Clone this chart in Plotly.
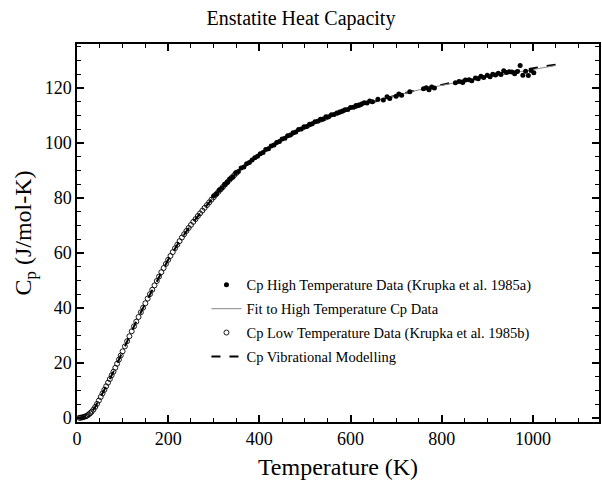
import plotly.graph_objects as go

# Low temperature data (open circles)
low_T = [5, 8, 11, 14, 17, 20, 23, 26, 29, 32, 36, 40, 44, 48, 52, 56, 60, 64, 68, 72, 76, 80,
         84, 88, 92, 96, 100, 105, 110, 115, 120, 125, 130, 135, 140, 145, 150, 155, 160, 165,
         170, 175, 180, 185, 190, 195, 200, 205, 210, 215, 220, 225, 230, 235, 240, 245, 250,
         255, 260, 265, 270, 275, 280, 285, 290, 295, 300, 305, 310, 315, 320, 325, 330, 335,
         340, 345, 350]
low_Cp = [0.02, 0.06, 0.15, 0.3, 0.45, 0.6, 0.9, 1.3, 1.7, 2.2, 3.0, 4.0, 5.1, 6.3, 7.6, 8.9,
          10.2, 11.5, 12.8, 14.1, 15.5, 16.8, 18.2, 19.7, 21.2, 22.7, 24.2, 26.0, 27.9, 29.7,
          31.5, 33.3, 35.0, 36.7, 38.4, 40.1, 41.7, 43.4, 45.0, 46.6, 48.2, 49.8, 51.4, 53.0,
          54.5, 56.0, 57.5, 58.9, 60.3, 61.7, 63.0, 64.3, 65.6, 66.8, 68.0, 69.1, 70.2, 71.3,
          72.3, 73.4, 74.4, 75.4, 76.4, 77.4, 78.4, 79.4, 80.3, 81.3, 82.2, 83.1, 84.0, 84.9,
          85.8, 86.7, 87.5, 88.3, 89.1]

# High temperature data (filled dots)
high_T = [300, 306, 312, 318, 324, 330, 336, 342, 348, 354, 360, 366, 372, 378, 384, 390, 396,
          402, 408, 414, 420, 426, 432, 438, 444, 450, 456, 462, 468, 474, 480, 486, 492, 498,
          504, 510, 516, 522, 528, 534, 540, 546, 552, 558, 564, 570, 576, 582, 588, 594, 600,
          606, 612, 618, 624, 630, 636, 642, 648, 660, 672, 680, 686, 700, 706, 712, 730, 760,
          766, 772, 778, 784, 830, 838, 846, 852, 860, 866, 874, 880, 886, 892, 900, 906, 912,
          918, 924, 930, 936, 942, 948, 954, 960, 966, 972, 978, 984, 990, 996, 1002]
high_Cp = [80.8, 81.5, 82.9, 83.6, 85.0, 85.7, 87.0, 87.6, 89.2, 89.6, 90.9, 91.3, 92.4, 92.9,
           93.8, 94.6, 95.2, 96.1, 96.5, 97.6, 97.9, 98.9, 99.3, 100.2, 100.5, 101.4, 101.7,
           102.6, 102.9, 103.7, 104.0, 104.9, 105.1, 105.9, 106.0, 106.8, 107.0, 107.7, 107.9,
           108.6, 108.7, 109.5, 109.5, 110.3, 110.4, 110.9, 111.3, 111.6, 112.1, 112.2, 112.9,
           113.0, 113.6, 113.8, 114.2, 114.6, 114.5, 115.3, 115.0, 115.9, 115.6, 116.8, 116.2,
           117.0, 117.8, 117.4, 118.6, 119.7, 120.1, 119.4, 120.4, 120.0, 121.9, 122.4, 122.0,
           122.9, 123.0, 122.6, 123.6, 123.4, 124.3, 123.8, 124.6, 124.1, 125.0, 124.7, 125.4,
           124.9, 126.3, 125.6, 125.9, 125.8, 125.2, 126.0, 128.2, 124.6, 126.1, 124.5, 126.4,
           125.5]

# Fit to high temperature data
fit_T = [300, 350, 400, 450, 500, 550, 600, 650, 700, 750, 800, 850, 900, 950, 1000, 1050]
fit_Cp = [80.6, 89.2, 95.8, 101.2, 105.5, 109.0, 112.3, 115.0, 117.3, 119.3, 121.0, 122.6,
          124.0, 125.3, 126.7, 128.2]

# Vibrational model
vib_T = [0, 10, 20, 30, 40, 50, 60, 80, 100, 125, 150, 175, 200, 225, 250, 275, 300, 350, 400,
         450, 500, 550, 600, 650, 700, 750, 800, 850, 900, 950, 1000, 1050]
vib_Cp = [0, 0.1, 0.6, 1.8, 4.0, 7.0, 10.2, 16.8, 24.2, 33.3, 41.7, 49.8, 57.5, 64.3, 70.2,
          75.4, 80.3, 89.1, 95.6, 101.0, 105.3, 108.9, 112.2, 114.9, 117.3, 119.4, 121.2,
          122.9, 124.4, 125.8, 127.2, 128.5]

SERIF = "Liberation Serif, Times New Roman, serif"

fig = go.Figure()
fig.add_trace(go.Scatter(x=vib_T, y=vib_Cp, mode="lines", name="Cp Vibrational Modelling",
                         line=dict(color="black", width=2, dash="dash"), legendrank=4,
                         legendgroup="d"))
fig.add_trace(go.Scatter(x=fit_T, y=fit_Cp, mode="lines", name="Fit to High Temperature Cp Data",
                         line=dict(color="#888888", width=1), legendrank=2, legendgroup="b"))
fig.add_trace(go.Scatter(x=low_T, y=low_Cp, mode="markers",
                         name="Cp Low Temperature Data (Krupka et al. 1985b)",
                         marker=dict(symbol="circle-open", size=5, color="black",
                                     line=dict(width=0.9, color="black")),
                         legendrank=3, legendgroup="c"))
fig.add_trace(go.Scatter(x=high_T, y=high_Cp, mode="markers",
                         name="Cp High Temperature Data (Krupka et al. 1985a)",
                         marker=dict(symbol="circle", size=5, color="black"),
                         legendrank=1, legendgroup="a"))

axis_common = dict(showline=True, linecolor="black", linewidth=1.5, mirror="ticks",
                   ticks="inside", ticklen=7, tickwidth=1.5, tickcolor="black",
                   showgrid=False, zeroline=False,
                   tickfont=dict(family=SERIF, size=18, color="black"))

fig.update_layout(
    width=602, height=483,
    margin=dict(l=77, r=1, t=44, b=61),
    paper_bgcolor="white", plot_bgcolor="white",
    title=dict(text="Enstatite Heat Capacity", x=0.5, xanchor="center", y=0.962,
               yanchor="middle", font=dict(family=SERIF, size=20, color="black")),
    xaxis=dict(range=[0, 1145], tickvals=[0, 200, 400, 600, 800, 1000],
               minor=dict(dtick=50, tick0=0, ticks="inside", ticklen=4, tickwidth=1,
                          tickcolor="black"),
               title=dict(text="Temperature (K)", font=dict(family=SERIF, size=24, color="black"),
                          standoff=10),
               **axis_common),
    yaxis=dict(range=[-1.5, 136], tickvals=[0, 20, 40, 60, 80, 100, 120],
               minor=dict(dtick=5, tick0=0, ticks="inside", ticklen=4, tickwidth=1,
                          tickcolor="black"),
               title=dict(text="C<sub>p</sub> (J/mol-K)",
                          font=dict(family=SERIF, size=24, color="black"), standoff=6),
               **axis_common),
    legend=dict(x=0.248, y=0.405, xanchor="left", yanchor="top", bgcolor="rgba(0,0,0,0)",
                font=dict(family=SERIF, size=14.5, color="black"), tracegroupgap=2,
                traceorder="grouped"),
    showlegend=True,
)

fig.write_html("out.html")
